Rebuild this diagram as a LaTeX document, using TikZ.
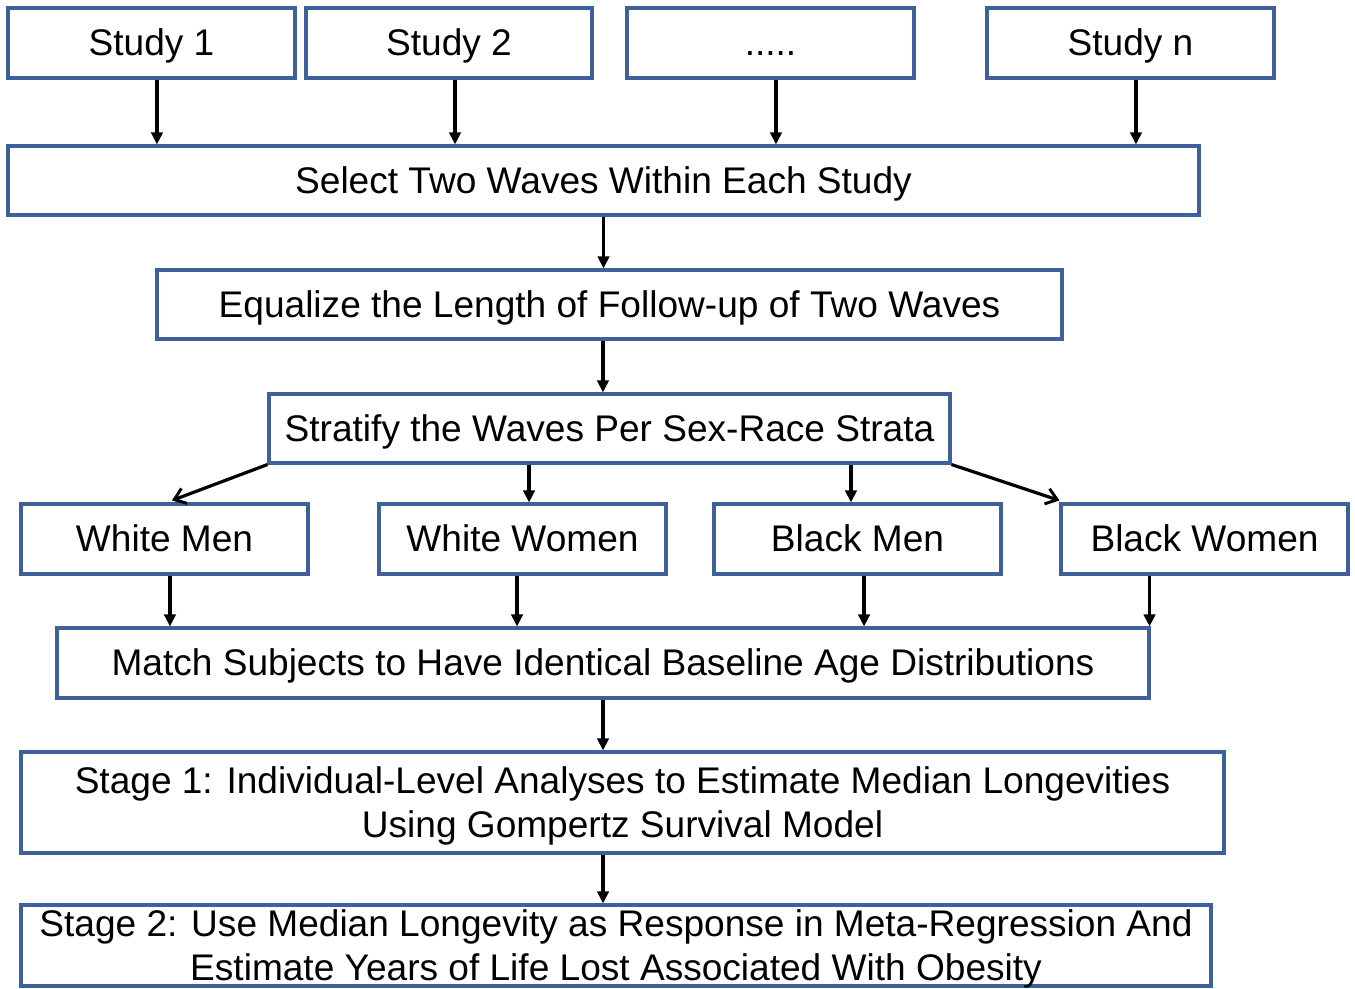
\documentclass[tikz,border=0pt]{standalone}
\usepackage{fontspec}
\setmainfont{Liberation Sans}
\usetikzlibrary{arrows.meta}
\definecolor{boxblue}{RGB}{62,96,155}
\begin{document}
\begin{tikzpicture}[x=0.75pt,y=-0.75pt,
  box/.style={draw=boxblue,line width=2.3pt,inner sep=0pt,align=center,text depth=0pt,
    font=\fontsize{27.8pt}{33pt}\selectfont},
  one/.style={text height=18.9pt},
  wh/.style 2 args={minimum width=#1*0.75pt,minimum height=#2*0.75pt},
  arr/.style={-{Triangle[length=9pt,width=8.5pt]},line width=2.4pt,black},
  darr/.style={-{Straight Barb[length=8pt,width=12pt,line width=2.2pt]},line width=2.4pt,black}]
\clip (0,0) rectangle (1355,988);
\fill[white] (0,0) rectangle (1355,988);
\node[box,one,wh={287}{70}] (s1) at (151.5,43) {Study 1};
\node[box,one,wh={286}{70}] (s2) at (449,43) {Study 2};
\node[box,one,wh={287}{70}] (sd) at (770.5,43) {.....};
\node[box,one,wh={287}{70}] (sn) at (1130.5,43) {Study n};
\node[box,one,wh={1191}{69}] (sel) at (603.5,180.5) {Select Two Waves Within Each Study};
\node[box,one,wh={905}{69}] (eq) at (609.5,304.5) {Equalize the Length of Follow-up of Two Waves};
\node[box,one,wh={681}{69}] (str) at (609.5,428.5) {Stratify the Waves Per Sex-Race Strata};
\node[box,one,wh={287}{70}] (wm) at (164.5,539) {White Men};
\node[box,one,wh={287}{70}] (ww) at (522.5,539) {White Women};
\node[box,one,wh={287}{70}] (bm) at (857.5,539) {Black Men};
\node[box,one,wh={287}{70}] (bw) at (1204.5,539) {Black Women};
\node[box,one,wh={1092}{70}] (match) at (603,663) {Match Subjects to Have Identical Baseline Age Distributions};
\node[box,wh={1203}{101}] (st1) at (622.5,802.5) {Stage 1: Individual-Level Analyses to Estimate Median Longevities\\Using Gompertz Survival Model};
\node[box,wh={1190}{81}] (st2) at (616,945.5) {Stage 2: Use Median Longevity as Response in Meta-Regression And\\Estimate Years of Life Lost Associated With Obesity};
% arrows
\draw[arr] ([xshift=4.1pt]s1.south) -- ([xshift=4.1pt]s1.south |- sel.north);
\draw[arr] ([xshift=4.5pt]s2.south) -- ([xshift=4.5pt]s2.south |- sel.north);
\draw[arr] ([xshift=4.1pt]sd.south) -- ([xshift=4.1pt]sd.south |- sel.north);
\draw[arr] ([xshift=4.1pt]sn.south) -- ([xshift=4.1pt]sn.south |- sel.north);
\draw[arr] (sel.south) -- (sel.south |- eq.north);
\draw[arr] ([xshift=-4.9pt]eq.south) -- ([xshift=-4.9pt]eq.south |- str.north);
\draw[darr] (str.south west) -- ([xshift=5.6pt,yshift=1.5pt]wm.north);
\draw[arr] ([xshift=4.9pt]ww.north |- str.south) -- ([xshift=4.9pt]ww.north);
\draw[arr] ([xshift=-4.9pt]bm.north |- str.south) -- ([xshift=-4.9pt]bm.north);
\draw[darr] (str.south east) -- ([yshift=1.5pt]bw.north west);
\draw[arr] ([xshift=4.1pt]wm.south) -- ([xshift=4.1pt]wm.south |- match.north);
\draw[arr] ([xshift=-4.1pt]ww.south) -- ([xshift=-4.1pt]ww.south |- match.north);
\draw[arr] ([xshift=4.9pt]bm.south) -- ([xshift=4.9pt]bm.south |- match.north);
\draw[arr] ([xshift=-0.75pt]match.north east |- bw.south) -- ([xshift=-0.75pt]match.north east);
\draw[arr] (match.south) -- (match.south |- st1.north);
\draw[arr] ([xshift=-14.6pt]st1.south) -- ([xshift=-14.6pt]st1.south |- st2.north);
\end{tikzpicture}
\end{document}
